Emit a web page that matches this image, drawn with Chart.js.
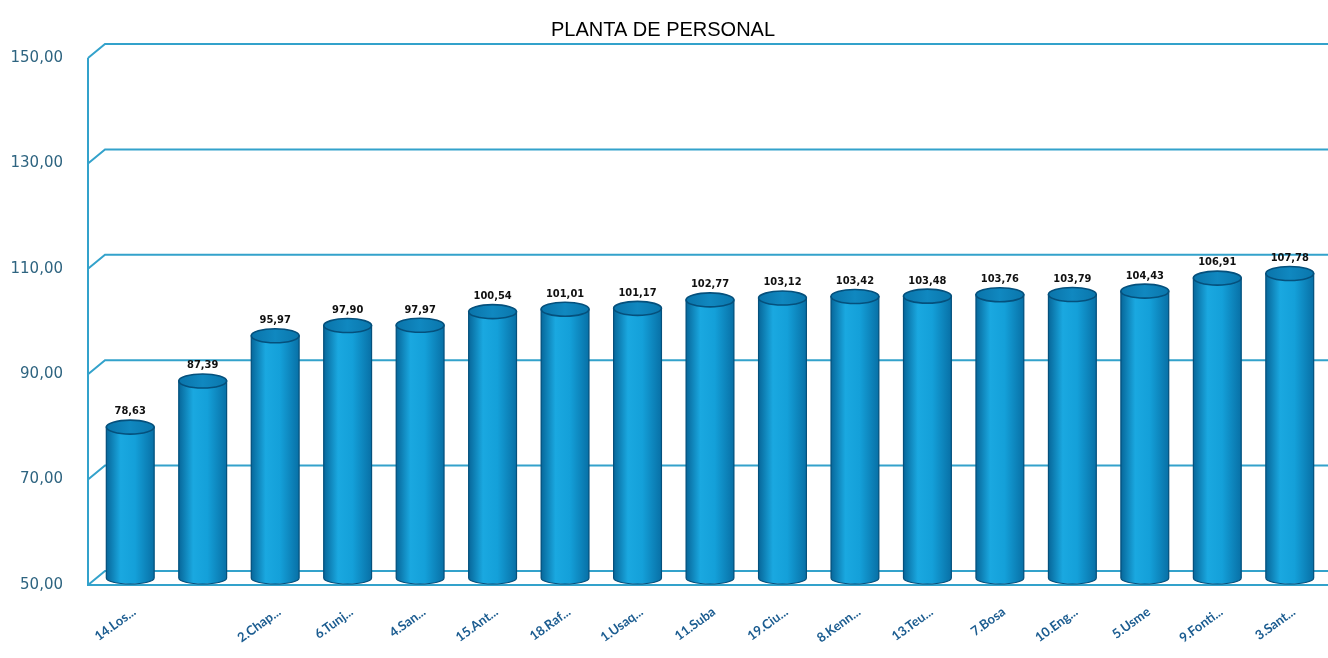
<!DOCTYPE html>
<html>
<head>
<meta charset="utf-8">
<title>Planta de personal</title>
<script src="https://cdn.jsdelivr.net/npm/chart.js@4.4.1/dist/chart.umd.min.js"></script>
<style>
  html, body { margin: 0; padding: 0; background: #ffffff; }
  #contenedor { width: 1328px; height: 658px; }
</style>
</head>
<body>
<div id="contenedor"><canvas id="plantaPersonal"></canvas></div>
<script>
// Localidades (eje X) y valores de la planta de personal
const localidades = [
  "14.Los...", "", "2.Chap...", "6.Tunj...", "4.San...", "15.Ant...",
  "18.Raf...", "1.Usaq...", "11.Suba", "19.Ciu...", "8.Kenn...", "13.Teu...",
  "7.Bosa", "10.Eng...", "5.Usme", "9.Fonti...", "3.Sant..."
];
const valores = [
  78.63, 87.39, 95.97, 97.90, 97.97, 100.54,
  101.01, 101.17, 102.77, 103.12, 103.42, 103.48,
  103.76, 103.79, 104.43, 106.91, 107.78
];
const ejeMin = 50;
const ejeMax = 150;
const ejePaso = 20;

// formato con coma decimal: 78.63 -> "78,63"
const formato = v => Number(v).toFixed(2).replace('.', ',');

// Rejilla con efecto 3D (pared izquierda y piso)
const rejilla3d = {
  id: 'rejilla3d',
  beforeDatasetsDraw(chart) {
    const { ctx, chartArea, scales: { y } } = chart;
    const xFrente = chartArea.left - 6;
    const xFondo = chartArea.left + 11;
    const dz = 7;
    ctx.save();
    ctx.strokeStyle = '#33a2cb';
    ctx.lineWidth = 2;
    y.ticks.forEach(t => {
      const py = y.getPixelForValue(t.value);
      ctx.beginPath();
      ctx.moveTo(xFrente, py + dz);
      ctx.lineTo(xFondo, py - dz);
      ctx.lineTo(chart.width, py - dz);
      ctx.stroke();
    });
    // pared y borde frontal del piso
    ctx.beginPath();
    ctx.moveTo(xFrente, y.getPixelForValue(ejeMax) + dz);
    ctx.lineTo(xFrente, y.getPixelForValue(ejeMin) + dz);
    ctx.lineTo(chart.width, y.getPixelForValue(ejeMin) + dz);
    ctx.stroke();
    ctx.restore();
  }
};

// Cilindros + etiquetas de valor
const cilindros = {
  id: 'cilindros',
  afterDatasetsDraw(chart) {
    const { ctx, scales: { y: escalaY } } = chart;
    const meta = chart.getDatasetMeta(0);
    const piso = escalaY.getPixelForValue(ejeMin);
    meta.data.forEach((barra, i) => {
      const { x, y, width } = barra.getProps(['x', 'y', 'width'], true);
      const base = piso;
      const rx = width / 2, ry = 7;
      ctx.save();

      // cuerpo
      const g = ctx.createLinearGradient(x - rx, 0, x + rx, 0);
      g.addColorStop(0, '#07679a');
      g.addColorStop(0.3, '#1aa8e0');
      g.addColorStop(0.6, '#14a0d9');
      g.addColorStop(1, '#0870a6');
      ctx.fillStyle = g;
      ctx.strokeStyle = '#05507c';
      ctx.lineWidth = 1.2;
      ctx.beginPath();
      ctx.moveTo(x - rx, y);
      ctx.lineTo(x - rx, base);
      ctx.ellipse(x, base, rx, ry - 1, 0, Math.PI, 0, true);
      ctx.lineTo(x + rx, y);
      ctx.closePath();
      ctx.fill();
      ctx.stroke();

      // tapa
      const gt = ctx.createLinearGradient(x - rx, 0, x + rx, 0);
      gt.addColorStop(0, '#0a74aa');
      gt.addColorStop(0.5, '#1088c0');
      gt.addColorStop(1, '#0a76ac');
      ctx.fillStyle = gt;
      ctx.lineWidth = 1.6;
      ctx.beginPath();
      ctx.ellipse(x, y, rx, ry, 0, 0, Math.PI * 2);
      ctx.fill();
      ctx.stroke();

      // valor
      ctx.fillStyle = '#111111';
      ctx.font = 'bold 11px "DejaVu Sans Condensed", "Liberation Sans Narrow", sans-serif';
      ctx.textAlign = 'center';
      ctx.textBaseline = 'bottom';
      ctx.fillText(formato(valores[i]), x, y - ry - 3);
      ctx.restore();
    });
  }
};

new Chart(document.getElementById('plantaPersonal'), {
  type: 'bar',
  data: {
    labels: localidades,
    datasets: [{
      label: 'Planta de personal',
      data: valores,
      backgroundColor: '#1398cf',
      borderWidth: 0,
      barPercentage: 0.66,
      categoryPercentage: 1
    }]
  },
  options: {
    responsive: true,
    maintainAspectRatio: false,
    animation: false,
    layout: { padding: { left: 0, right: 2, top: 0, bottom: 0 } },
    scales: {
      x: {
        grid: { display: false },
        border: { display: false },
        afterFit: scale => { scale.height = 80; },
        ticks: {
          autoSkip: false,
          maxRotation: 36,
          minRotation: 36,
          labelOffset: 4,
          padding: 18,
          color: '#1b5c90',
          font: { family: 'Lato, "Open Sans", sans-serif', size: 13, weight: 'bold' }
        }
      },
      y: {
        min: ejeMin,
        max: ejeMax,
        grid: { display: false },
        border: { display: false },
        afterFit: scale => { scale.width = 94; },
        ticks: {
          stepSize: ejePaso,
          padding: 23,
          labelOffset: 7,
          color: '#2e6480',
          font: { family: '"DejaVu Sans", sans-serif', size: 15 },
          callback: v => formato(v)
        }
      }
    },
    plugins: {
      legend: { display: false },
      tooltip: {
        callbacks: {
          label: item => 'Planta de personal: ' + formato(item.raw)
        }
      },
      title: {
        display: true,
        text: 'PLANTA DE PERSONAL',
        color: '#000000',
        padding: { top: 18, bottom: 9 },
        font: { family: '"Liberation Sans", Arial, sans-serif', size: 20, weight: 'normal' }
      }
    }
  },
  plugins: [rejilla3d, cilindros]
});
</script>
</body>
</html>
